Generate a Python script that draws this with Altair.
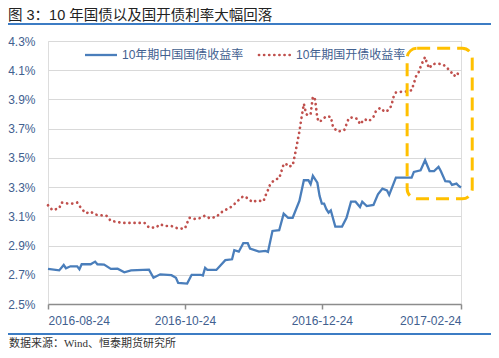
import altair as alt
import pandas as pd

# ---------------- data ----------------
series_names = ["10年期中国国债收益率", "10年期国开债收益率"]

cgb_dates = [
    "2016-08-24", "2016-08-29", "2016-08-31", "2016-09-01", "2016-09-03", "2016-09-06",
    "2016-09-07", "2016-09-08", "2016-09-12", "2016-09-14", "2016-09-15", "2016-09-18",
    "2016-09-21", "2016-09-24", "2016-09-27", "2016-09-30", "2016-10-08", "2016-10-10",
    "2016-10-13", "2016-10-18", "2016-10-20", "2016-10-21", "2016-10-25", "2016-10-27",
    "2016-10-31", "2016-11-01", "2016-11-02", "2016-11-03", "2016-11-07", "2016-11-11",
    "2016-11-14", "2016-11-15", "2016-11-17", "2016-11-19", "2016-11-21", "2016-11-22",
    "2016-11-26", "2016-11-29", "2016-11-30", "2016-12-02", "2016-12-05", "2016-12-07",
    "2016-12-09", "2016-12-11", "2016-12-14", "2016-12-16", "2016-12-18", "2016-12-19",
    "2016-12-20", "2016-12-22", "2016-12-23", "2016-12-24", "2016-12-25", "2016-12-26",
    "2016-12-27", "2016-12-28", "2016-12-30", "2017-01-02", "2017-01-04", "2017-01-06",
    "2017-01-08", "2017-01-10", "2017-01-11", "2017-01-13", "2017-01-16", "2017-01-18",
    "2017-01-20", "2017-01-22", "2017-01-23", "2017-01-26", "2017-02-02", "2017-02-03",
    "2017-02-06", "2017-02-08", "2017-02-10", "2017-02-12", "2017-02-14", "2017-02-15",
    "2017-02-17", "2017-02-19", "2017-02-20", "2017-02-22", "2017-02-23", "2017-02-24",
]
cgb_values = [
    2.740, 2.730, 2.767, 2.745, 2.758, 2.758,
    2.738, 2.772, 2.772, 2.790, 2.772, 2.770,
    2.740, 2.742, 2.717, 2.730, 2.735, 2.680,
    2.703, 2.697, 2.680, 2.644, 2.640, 2.700,
    2.700, 2.695, 2.747, 2.733, 2.733, 2.800,
    2.806, 2.868, 2.858, 2.916, 2.916, 2.880,
    2.858, 2.863, 2.856, 3.000, 3.005, 3.118,
    3.090, 3.090, 3.205, 3.347, 3.347, 3.320,
    3.377, 3.330, 3.240, 3.187, 3.187, 3.149,
    3.125, 3.140, 3.030, 3.030, 3.090, 3.200,
    3.200, 3.164, 3.200, 3.170, 3.178, 3.250,
    3.290, 3.278, 3.247, 3.365, 3.365, 3.404,
    3.415, 3.484, 3.410, 3.410, 3.438, 3.410,
    3.340, 3.338, 3.315, 3.324, 3.308, 3.297,
]

cdb_dates = [
    "2016-08-24", "2016-08-26", "2016-08-29", "2016-08-30", "2016-09-02", "2016-09-04",
    "2016-09-06", "2016-09-08", "2016-09-10", "2016-09-12", "2016-09-14", "2016-09-17",
    "2016-09-19", "2016-09-21", "2016-09-23", "2016-09-26", "2016-10-06", "2016-10-08",
    "2016-10-11", "2016-10-13", "2016-10-15", "2016-10-18", "2016-10-21", "2016-10-24",
    "2016-10-25", "2016-10-26", "2016-10-28", "2016-10-30", "2016-11-02", "2016-11-04",
    "2016-11-07", "2016-11-09", "2016-11-11", "2016-11-13", "2016-11-15", "2016-11-17",
    "2016-11-19", "2016-11-21", "2016-11-23", "2016-11-25", "2016-11-28", "2016-11-29",
    "2016-11-30", "2016-12-01", "2016-12-03", "2016-12-05", "2016-12-06", "2016-12-07",
    "2016-12-08", "2016-12-09", "2016-12-11", "2016-12-12", "2016-12-13", "2016-12-14",
    "2016-12-15", "2016-12-16", "2016-12-17", "2016-12-18", "2016-12-19", "2016-12-20",
    "2016-12-21", "2016-12-22", "2016-12-23", "2016-12-24", "2016-12-26", "2016-12-28",
    "2016-12-29", "2016-12-31", "2017-01-02", "2017-01-03", "2017-01-04", "2017-01-05",
    "2017-01-07", "2017-01-09", "2017-01-10", "2017-01-12", "2017-01-14", "2017-01-16",
    "2017-01-17", "2017-01-19", "2017-01-21", "2017-01-23", "2017-01-24", "2017-01-25",
    "2017-01-26", "2017-01-29", "2017-01-31", "2017-02-02", "2017-02-03", "2017-02-04",
    "2017-02-05", "2017-02-06", "2017-02-07", "2017-02-08", "2017-02-09", "2017-02-10",
    "2017-02-11", "2017-02-13", "2017-02-15", "2017-02-16", "2017-02-18", "2017-02-20",
    "2017-02-21", "2017-02-22", "2017-02-23", "2017-02-24",
]
cdb_values = [
    3.176, 3.142, 3.155, 3.194, 3.187, 3.187,
    3.194, 3.150, 3.121, 3.132, 3.112, 3.107,
    3.105, 3.068, 3.064, 3.055, 3.055, 3.023,
    3.023, 3.046, 3.034, 3.034, 3.016, 3.016,
    3.055, 3.090, 3.082, 3.084, 3.105, 3.087,
    3.096, 3.125, 3.144, 3.158, 3.183, 3.212,
    3.238, 3.224, 3.197, 3.208, 3.203, 3.245,
    3.280, 3.320, 3.351, 3.360, 3.409, 3.457,
    3.461, 3.440, 3.447, 3.520, 3.600, 3.680,
    3.780, 3.870, 3.800, 3.790, 3.800, 3.920,
    3.900, 3.770, 3.745, 3.760, 3.785, 3.780,
    3.710, 3.680, 3.685, 3.690, 3.730, 3.772,
    3.778, 3.765, 3.730, 3.765, 3.751, 3.781,
    3.817, 3.843, 3.815, 3.829, 3.860, 3.920,
    3.947, 3.954, 3.954, 3.963, 4.009, 4.060,
    4.080, 4.123, 4.160, 4.190, 4.140, 4.113,
    4.140, 4.145, 4.142, 4.140, 4.113, 4.080,
    4.060, 4.083, 4.070, 4.060,
]

x_domain = ["2016-08-24", "2017-02-24"]
x_tick_dates = ["2016-08-24", "2016-10-24", "2016-12-24", "2017-02-24"]
y_ticks = [2.5, 2.7, 2.9, 3.1, 3.3, 3.5, 3.7, 3.9, 4.1, 4.3]

# highlighted box (data space)
box_dates = ["2017-01-31", "2017-03-01"]
box_values = [3.22, 4.25]

title_text = "图 3：10 年国债以及国开债利率大幅回落"
source_text = "数据来源：Wind、恒泰期货研究所"

# ---------------- styles ----------------
BLUE = "#4A7EBB"
RED = "#C0504D"
YELLOW = "#FFC000"
LABEL = "#41608F"
RULE_BLUE = "#3C7CC4"
LATIN = "Liberation Sans, Noto Sans CJK SC, sans-serif"
SERIF = "Liberation Serif, Noto Sans CJK SC, serif"

W, H = 413, 263

cgb_df = pd.DataFrame({"date": pd.to_datetime(cgb_dates), "value": cgb_values})
cdb_df = pd.DataFrame({"date": pd.to_datetime(cdb_dates), "value": cdb_values})
box_df = pd.DataFrame({
    "date": [pd.Timestamp(box_dates[0])], "date2": [pd.Timestamp(box_dates[1])],
    "value": [box_values[0]], "value2": [box_values[1]],
})


def dt(s):
    t = pd.Timestamp(s)
    return alt.DateTime(year=t.year, month=t.month, date=t.day)


xscale = alt.Scale(domain=[dt(x_domain[0]), dt(x_domain[1])], nice=False)
yscale = alt.Scale(domain=[2.5, 4.3], nice=False, zero=False)

x_axis = alt.Axis(
    values=[dt(d) for d in x_tick_dates], format="%Y-%m-%d", title=None,
    grid=False, domainColor="#8C8C8C", domainWidth=1.5, tickColor="#8C8C8C",
    tickWidth=1.5, tickSize=5, labelPadding=6, labelFontSize=12, labelFont=LATIN,
    labelColor=LABEL, labelAngle=0, labelOverlap=False,
)
y_axis = alt.Axis(
    values=y_ticks, labelExpr="format(datum.value, '.1f') + '%'", title=None,
    domain=False, ticks=False, tickSize=0, labelPadding=13, grid=True,
    gridColor="#D9D9D9", gridWidth=1, labelFontSize=12, labelFont=LATIN,
    labelColor=LABEL,
)

X = alt.X("date:T", scale=xscale, axis=x_axis)
Y = alt.Y("value:Q", scale=yscale, axis=y_axis)

blue_line = alt.Chart(cgb_df).mark_line(color=BLUE, strokeWidth=2.3).encode(x=X, y=Y)
red_line = alt.Chart(cdb_df).mark_line(
    color=RED, strokeWidth=2.7, strokeDash=[0.1, 5], strokeCap="round"
).encode(x=X, y=Y)
box = alt.Chart(box_df).mark_rect(
    filled=False, stroke=YELLOW, strokeWidth=3, strokeDash=[13, 7], cornerRadius=10
).encode(x=X, x2="date2:T", y=Y, y2="value2:Q")

one = pd.DataFrame({"k": [0]})

leg_blue = alt.Chart(one).mark_rule(color=BLUE, strokeWidth=2.3).encode(
    x=alt.value(37), x2=alt.value(69), y=alt.value(14))
leg_blue_t = alt.Chart(one).mark_text(
    text=series_names[0], align="left", baseline="middle", fontSize=12,
    font=LATIN, color=LABEL).encode(x=alt.value(74), y=alt.value(14))
leg_red = alt.Chart(one).mark_rule(
    color=RED, strokeWidth=2.7, strokeDash=[0.1, 5], strokeCap="round").encode(
    x=alt.value(211), x2=alt.value(244), y=alt.value(14))
leg_red_t = alt.Chart(one).mark_text(
    text=series_names[1], align="left", baseline="middle", fontSize=12,
    font=LATIN, color=LABEL).encode(x=alt.value(248), y=alt.value(14))

title = alt.Chart(one).mark_text(
    text=title_text, align="left", baseline="middle", fontSize=14.5,
    font=LATIN, color="#222222").encode(x=alt.value(-40), y=alt.value(-25))
top_rule = alt.Chart(one).mark_rule(color=RULE_BLUE, strokeWidth=2).encode(
    x=alt.value(-40), x2=alt.value(443), y=alt.value(-17))
bottom_rule = alt.Chart(one).mark_rule(color=RULE_BLUE, strokeWidth=2).encode(
    x=alt.value(-40), x2=alt.value(443), y=alt.value(293))
source = alt.Chart(one).mark_text(
    text=source_text, align="left", baseline="middle", fontSize=11,
    font=SERIF, color="#333333").encode(x=alt.value(-39), y=alt.value(302.5))

chart = alt.layer(
    blue_line, red_line, box, leg_blue, leg_blue_t, leg_red, leg_red_t,
    title, top_rule, bottom_rule, source,
).properties(
    width=W, height=H,
    autosize=alt.AutoSizeParams(type="none"),
    padding={"left": 40, "top": 33, "right": 30, "bottom": 46},
).configure_view(stroke=None).configure(background="white")

chart.save("out.html", embed_options={"renderer": "svg", "actions": False})
